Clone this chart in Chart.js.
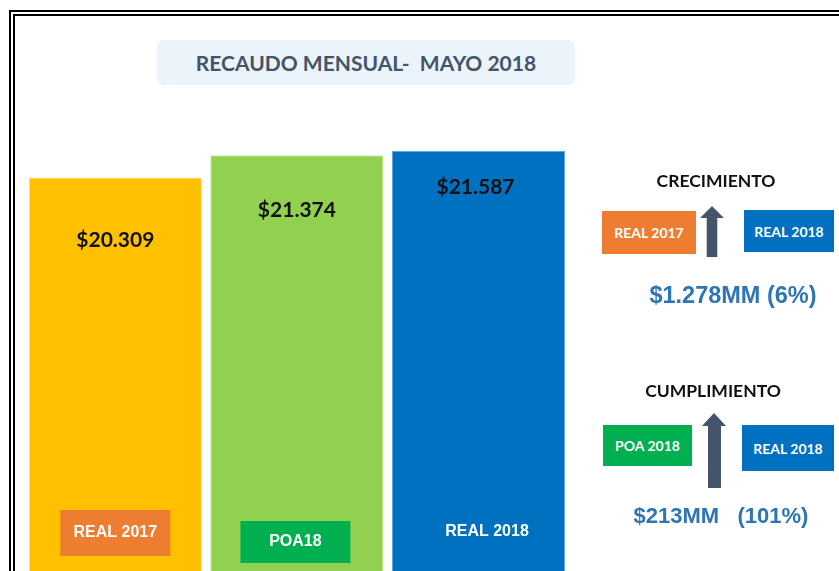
<!DOCTYPE html>
<html lang="es">
<head>
<meta charset="utf-8">
<title>Recaudo mensual - mayo 2018</title>
<script src="https://cdn.jsdelivr.net/npm/chart.js@4.4.1/dist/chart.umd.min.js"></script>
<style>
    html, body { margin: 0; padding: 0; background: #ffffff; overflow: hidden; width: 839px; height: 571px; }
    #frame { position: absolute; left: 9px; top: 10px; width: 900px; height: 640px; border: 6px double #000; box-sizing: border-box; }
    #chartBox { position: absolute; left: 0; top: 0; width: 839px; height: 620px; }
    .title {
        position: absolute; left: 157px; top: 40px; width: 418px; height: 45px; border-radius: 7px;
        background: #ebf3fb; color: #44546a; font: bold 21px Lato, sans-serif;
        display: flex; align-items: center; justify-content: center; white-space: pre;
    }
    .head { position: absolute; font: bold 17.5px Lato, sans-serif; color: #111; transform: translate(-50%, -50%); white-space: nowrap; }
    .tag {
        position: absolute; color: #fff; font: bold 14px Lato, sans-serif;
        display: flex; align-items: center; justify-content: center;
    }
    .amount { position: absolute; font: bold 22px "Liberation Sans", Arial, sans-serif; color: #2e75b6; transform: translate(-50%, -50%); white-space: pre; }
    svg.arrow { position: absolute; left: 0; top: 0; }
</style>
</head>
<body>
<div id="chartBox"><canvas id="recaudoChart"></canvas></div>
<div id="frame"></div>
<div class="title">RECAUDO MENSUAL-  MAYO 2018</div>

<div class="head" style="left:716px; top:180px;">CRECIMIENTO</div>
<div class="tag" style="left:602px; top:211px; width:94px; height:43px; background:#ed7d31;">REAL 2017</div>
<div class="tag" style="left:744px; top:210px; width:90px; height:42px; background:#0070c0;">REAL 2018</div>
<div class="amount" style="left:733px; top:295px; font-size:23.5px;">$1.278MM (6%)</div>

<div class="head" style="left:713px; top:390px;">CUMPLIMIENTO</div>
<div class="tag" style="left:603px; top:425px; width:89px; height:41px; background:#00b050;">POA 2018</div>
<div class="tag" style="left:742px; top:425px; width:92px; height:46px; background:#0070c0;">REAL 2018</div>
<div class="amount" style="left:721px; top:516px;">$213MM   (101%)</div>

<svg class="arrow" width="839" height="571">
    <polygon points="712,206 724,218 717.3,218 717.3,257 706.7,257 706.7,218 700,218" fill="#44546a"/>
    <polygon points="714,413 726,426 721,426 721,488 708,488 708,426 702,426" fill="#44546a"/>
</svg>

<script>
// Recaudo del mes (millones de pesos)
const categories = ['REAL 2017', 'POA18', 'REAL 2018'];
const recaudo = [20309, 21374, 21587];
const valueLabels = ['$20.309', '$21.374', '$21.587'];
const tagLabels = ['REAL 2017', 'POA18', 'REAL 2018'];

const barColors = ['#ffc000', '#92d050', '#0070c0'];
const barEdges = ['#ffe08a', '#c6e8a4', '#5fa6dc'];

// distance of each value label below the bar top
const labelOffsets = [63, 55, 36];
// tag inside the foot of each bar (null fill = text only)
const tagStyles = [
    { dx: 0, y: 533, w: 110, h: 46, fill: '#ed7d31' },
    { dx: -1.5, y: 542, w: 110, h: 42, fill: '#00b050' },
    { dx: 8.5, y: 532, w: 0, h: 0, fill: null }
];

const barLabels = {
    id: 'barLabels',
    afterDatasetsDraw(chart) {
        const ctx = chart.ctx;
        const bars = chart.getDatasetMeta(0).data;
        ctx.save();
        ctx.textAlign = 'center';
        ctx.textBaseline = 'middle';
        bars.forEach((bar, i) => {
            ctx.fillStyle = '#111';
            ctx.font = 'bold 21px Lato, sans-serif';
            ctx.fillText(valueLabels[i], bar.x - (i === 2 ? 3 : 0), bar.y + labelOffsets[i]);

            const t = tagStyles[i];
            const cx = bar.x + t.dx;
            if (t.fill) {
                ctx.fillStyle = t.fill;
                ctx.fillRect(cx - t.w / 2, t.y - t.h / 2, t.w, t.h);
            }
            ctx.fillStyle = '#ffffff';
            ctx.font = 'bold 16px "Liberation Sans", Arial, sans-serif';
            ctx.fillText(tagLabels[i], cx, t.y);
        });
        ctx.restore();
    }
};

const ctxBar = document.getElementById('recaudoChart');
new Chart(ctxBar, {
    type: 'bar',
    data: {
        labels: categories,
        datasets: [{
            data: recaudo,
            backgroundColor: barColors,
            borderColor: barEdges,
            borderWidth: 1,
            barPercentage: 0.954,
            categoryPercentage: 1
        }]
    },
    options: {
        responsive: true,
        maintainAspectRatio: false,
        animation: false,
        layout: { padding: { left: 24.5, right: 269.7, top: 100.6, bottom: 20 } },
        plugins: { legend: { display: false }, tooltip: { enabled: false } },
        scales: {
            x: { display: false },
            y: { display: false, min: 0, max: 24000 }
        }
    },
    plugins: [barLabels]
});
</script>
</body>
</html>
